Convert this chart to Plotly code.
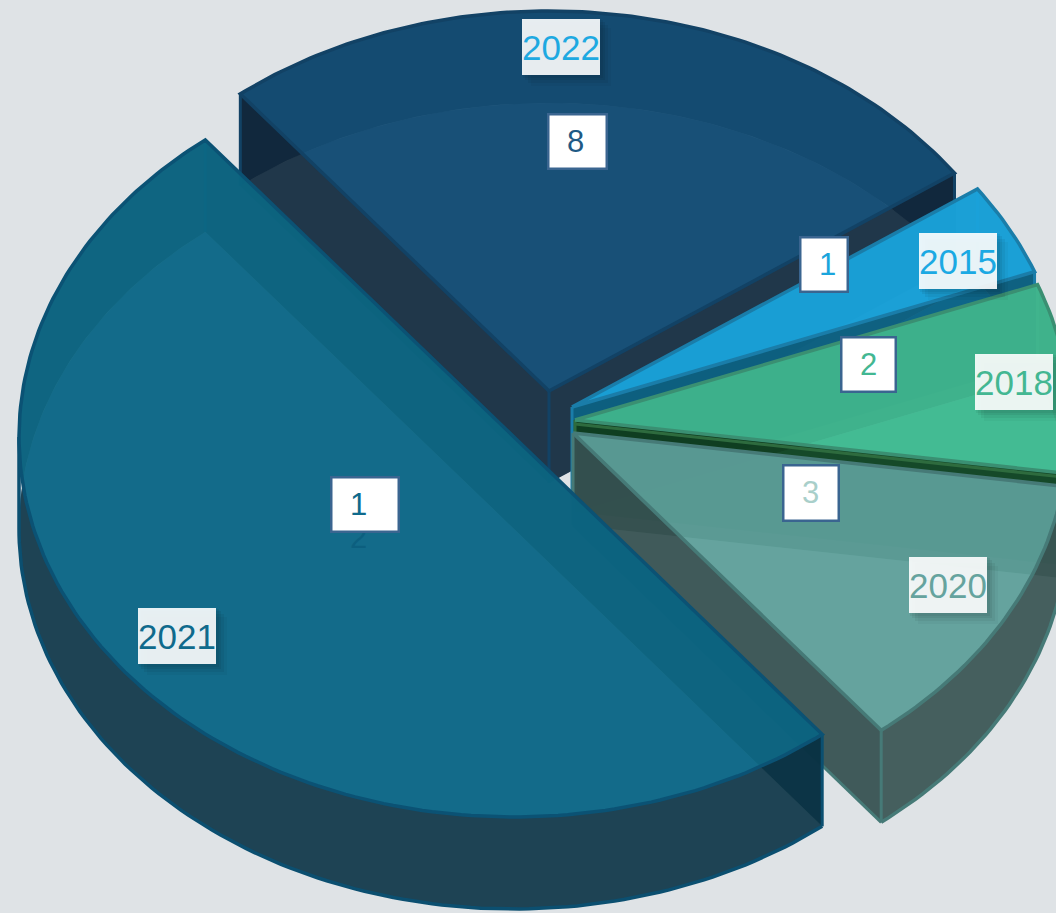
import math
import plotly.graph_objects as go

# ---- data -------------------------------------------------------------
years = ["2015", "2018", "2020", "2021", "2022"]
values = [1, 2, 3, 12, 8]

# ---- style / layout ---------------------------------------------------
W, H = 1056, 913
BG = "#dfe3e6"
RX, RY, DEPTH = 495, 380, 92
START = 35.0                 # screen angle at which the first slice begins (degrees)
WARP = (8.35, -4.55, 2.45)   # perspective distortion of the angles
CENTERS = {"2015": (572, 407), "2018": (575, 420), "2020": (573, 433),
           "2021": (514, 437), "2022": (549, 391)}
TOP = {"2015": "rgba(27,165,222,.9)", "2018": "rgba(67,188,150,.9)", "2020": "rgba(93,161,154,.9)",
       "2021": "rgba(12,104,133,.9)", "2022": "rgba(19,78,118,.9)"}
UNDER = {"2015": "rgb(27,165,220)", "2018": "rgb(70,170,120)", "2020": "rgb(170,185,194)",
         "2021": "rgb(80,135,180)", "2022": "rgb(75,100,130)"}
ARC = {"2015": "rgba(13,95,128,.9)", "2018": "rgba(12,62,28,.9)", "2020": "rgba(58,85,83,.9)",
       "2021": "rgba(24,60,73,.9)", "2022": "rgba(14,38,59,.9)"}
CUT = {"2015": "rgba(13,95,128,.9)", "2018": "rgba(16,62,32,.9)", "2020": "rgba(52,80,79,.9)",
       "2021": "rgba(9,50,68,.9)", "2022": "rgba(28,50,68,.9)"}
EDGE = {"2015": "#1a7da9", "2018": "#3a8f72", "2020": "#467a77", "2021": "#0b5274", "2022": "#124265"}
EDGE_LOW = {"2015": "#1a7da9", "2018": "#2e6b3e", "2020": "#467a77", "2021": "#0b4f70", "2022": "#124265"}
FRONT_SLICES = ("2020", "2021")
YEAR_POS = {"2015": (958, 261), "2018": (1014, 382), "2020": (948, 585), "2021": (177, 636), "2022": (561, 47)}
YEAR_COL = {"2015": "#1ba9e3", "2018": "#43b792", "2020": "#65a39e", "2021": "#0f6a8c", "2022": "#1ea9e1"}
# box: left, top, right, bottom ; text centre x, y
VALUE_BOX = {"2015": (800, 237, 847, 291, 827, 264), "2018": (841, 337, 895, 391, 868, 364),
             "2020": (783, 465, 838, 520, 810, 492), "2021": (331, 477, 398, 531, 358, 504),
             "2022": (548, 114, 606, 168, 575, 141)}
VALUE_COL = {"2015": "#1ba5dc", "2018": "#43b792", "2020": "#a9cfca", "2021": "#0f6a8c", "2022": "#1f5a85"}
DRAW_ORDER = ["2022", "2015", "2018", "2020", "2021"]
FONT = "Liberation Sans, Arial, sans-serif"


def warped(deg):
    t = math.radians(deg)
    a, b, c = WARP
    return START - (deg + a * (1 - math.cos(t)) + b * math.sin(t) + c * math.sin(2 * t))


def rim(year, t0, t1, dz=0, front_only=False):
    cx, cy = CENTERS[year]
    steps = max(8, int(abs(t1 - t0)))
    pts = []
    for i in range(steps + 1):
        a = math.radians(warped(t0 + (t1 - t0) * i / steps))
        if front_only and math.sin(a) > 0:
            continue
        pts.append((cx + RX * math.cos(a), cy - RY * math.sin(a) + dz))
    return pts


def poly(pts, fill, line="rgba(0,0,0,0)", width=0):
    xs = [p[0] for p in pts] + [pts[0][0]]
    ys = [p[1] for p in pts] + [pts[0][1]]
    return go.Scatter(x=xs, y=ys, mode="lines", fill="toself", fillcolor=fill,
                      line=dict(color=line, width=width),
                      hoverinfo="skip", showlegend=False)


def stroke(pts, color, width=3):
    return go.Scatter(x=[p[0] for p in pts], y=[p[1] for p in pts], mode="lines",
                      line=dict(color=color, width=width), hoverinfo="skip", showlegend=False)


total = sum(values)
spans = {}
acc = 0.0
for y, v in zip(years, values):
    spans[y] = (acc, acc + v / total * 360)
    acc += v / total * 360

fig = go.Figure()
for y in DRAW_ORDER:
    t0, t1 = spans[y]
    cx, cy = CENTERS[y]
    apex = (cx, cy)
    apex_low = (cx, cy + DEPTH)
    top = rim(y, t0, t1)
    low = rim(y, t0, t1, DEPTH)
    # bottom face
    fig.add_trace(poly([apex_low] + low, UNDER[y]))
    cuts = [poly([apex, top[0], low[0], apex_low], CUT[y]),
            poly([apex, top[-1], low[-1], apex_low], CUT[y])]
    arc = poly(top + low[::-1], ARC[y])
    # the largest slice shows its dark cut face in front of its curved wall
    for tr in ([arc] + cuts if y == "2021" else cuts + [arc]):
        fig.add_trace(tr)
    # silhouette strokes of the solid
    fig.add_trace(stroke([top[0], low[0]], EDGE_LOW[y]))
    fig.add_trace(stroke([top[-1], low[-1]], EDGE_LOW[y]))
    if y != "2021":
        fig.add_trace(stroke([apex, apex_low], EDGE_LOW[y]))
    if y in FRONT_SLICES:
        front = rim(y, t0, t1, DEPTH, front_only=True)
        if y == "2021":
            # the rim runs right to left here; finish on the vertical left silhouette
            front = front + [(cx - RX, cy + DEPTH), (cx - RX, cy)]
        fig.add_trace(stroke(front, EDGE_LOW[y], 3.5))
    if y == "2020":
        fig.add_trace(stroke([apex_low, low[-1]], EDGE_LOW[y]))
    if y == "2018":
        # lighter seam along the lower edge of the slice
        fig.add_trace(stroke([(apex[0], apex[1] + 4), (top[-1][0], top[-1][1] + 4)], "#2e6b3e", 3))
    # top face
    fig.add_trace(poly([apex] + top, TOP[y], EDGE[y], 3.5))

ann = []


def box(x0, y0, x1, y1, fill, border=None, bw=0):
    ann.append(dict(x=(x0 + x1) / 2, y=(y0 + y1) / 2, xref="x", yref="y", text=" ", showarrow=False,
                    xanchor="center", yanchor="middle", width=x1 - x0 - bw, height=y1 - y0 - bw,
                    bgcolor=fill, bordercolor=border or "rgba(0,0,0,0)", borderwidth=bw, borderpad=0))


def label(x, y, text, col, size):
    ann.append(dict(x=x, y=y, xref="x", yref="y", text=text, showarrow=False, xanchor="center",
                    yanchor="middle", font=dict(family=FONT, size=size, color=col)))


for y in years:
    # year label with its soft shadow
    x, yy = YEAR_POS[y]
    x0, y0, x1, y1 = x - 39, yy - 28, x + 39, yy + 28
    for d, a in ((11, .03), (8, .05), (5, .06), (3, .05)):
        box(x0 + d - 2, y0 + d - 2, x1 + d, y1 + d, f"rgba(0,0,0,{a})")
    box(x0, y0, x1, y1, "rgba(255,255,255,.9)")
    label(x, yy, y, YEAR_COL[y], 35)

for y, v in zip(years, values):
    bx0, by0, bx1, by1, tx, ty = VALUE_BOX[y]
    digits = str(v)
    if len(digits) == 2:
        # the second digit wraps out of its narrow box and only peeks out below it
        label(tx, by1 + 6, digits[1], "#0c5f7f", 31)
        digits = digits[0]
    box(bx0, by0, bx1, by1, "#ffffff", "#3a6590", 2.5)
    label(tx, ty, digits, VALUE_COL[y], 31)

fig.update_layout(
    width=W, height=H, margin=dict(l=0, r=0, t=0, b=0),
    paper_bgcolor=BG, plot_bgcolor=BG, showlegend=False, annotations=ann,
    xaxis=dict(range=[0, W], visible=False, fixedrange=True),
    yaxis=dict(range=[H, 0], visible=False, fixedrange=True),
)
fig.write_html("out.html", config={"displayModeBar": False},
               post_script=f"document.body.style.margin='0';document.body.style.background='{BG}';document.body.style.overflow='hidden';")
